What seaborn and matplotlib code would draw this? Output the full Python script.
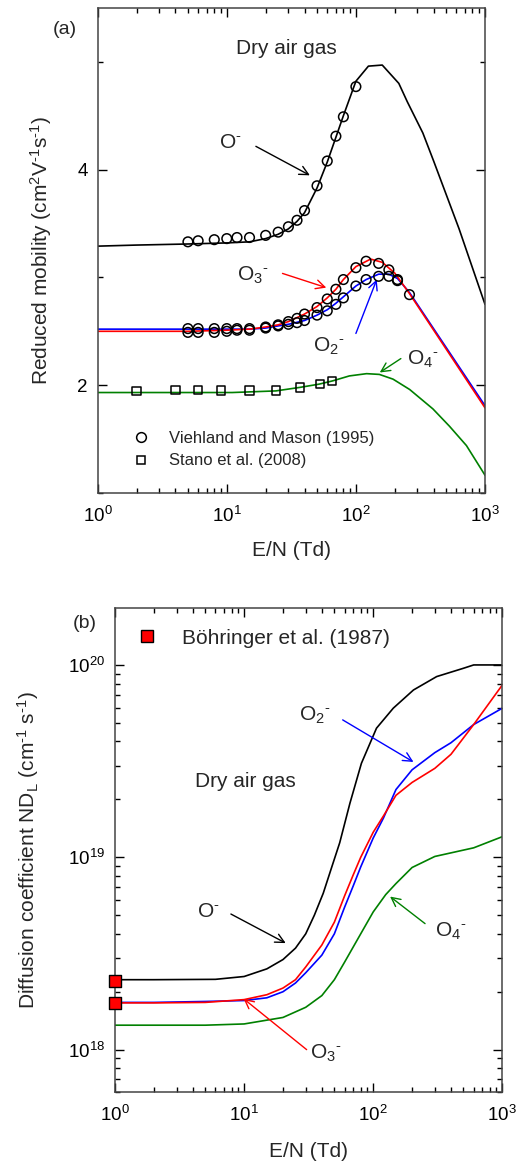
import numpy as np
import pandas as pd
import matplotlib
matplotlib.use("Agg")
import matplotlib.pyplot as plt
from matplotlib.lines import Line2D
from matplotlib.ticker import MultipleLocator, LogLocator, NullFormatter
import seaborn as sns

# ---- panel (a): reduced mobility ----
o_line_x = [1, 2, 5, 10, 15, 20, 25, 30, 35, 40, 50, 60, 70, 80, 100, 125, 160, 215, 250, 330, 400, 630, 1000]
o_line_y = [3.29, 3.30, 3.31, 3.32, 3.33, 3.36, 3.40, 3.45, 3.52, 3.60, 3.83, 4.07, 4.30, 4.50, 4.82, 4.96, 4.97,
            4.80, 4.63, 4.34, 4.08, 3.45, 2.75]

o3_line_x = [1, 5, 10, 15, 20, 25, 30, 40, 50, 60, 70, 80, 100, 130, 160, 200, 260, 1000]
o3_line_y = [2.50, 2.50, 2.51, 2.52, 2.54, 2.56, 2.59, 2.66, 2.73, 2.81, 2.89, 2.98, 3.10, 3.17, 3.14, 3.04, 2.85, 1.79]

o2_line_x = [1, 5, 10, 15, 20, 25, 30, 40, 50, 60, 70, 80, 100, 120, 150, 180, 210, 260, 1000]
o2_line_y = [2.52, 2.52, 2.52, 2.52, 2.53, 2.55, 2.565, 2.60, 2.65, 2.70, 2.76, 2.82, 2.92, 2.98, 3.03, 3.03, 2.99, 2.86, 1.81]

o4_line_x = [1, 5, 11, 24, 37, 52, 66, 89, 121, 152, 194, 261, 395, 530, 718, 1000]
o4_line_y = [1.932, 1.932, 1.932, 1.947, 1.98, 2.01, 2.04, 2.086, 2.107, 2.10, 2.056, 1.96, 1.78, 1.62, 1.44, 1.165]

# Viehland and Mason (1995) circles
vm_o_x = [5, 6, 8, 10, 12, 15, 20, 25, 30, 35, 40, 50, 60, 70, 80, 100]
vm_o_y = [3.33, 3.34, 3.35, 3.36, 3.37, 3.37, 3.39, 3.42, 3.47, 3.53, 3.62, 3.85, 4.08, 4.31, 4.49, 4.77]
vm_o3_x = [5, 6, 8, 10, 12, 15, 20, 25, 30, 35, 40, 50, 60, 70, 80, 100, 120, 150, 180, 210, 260]
vm_o3_y = [2.525, 2.525, 2.525, 2.525, 2.525, 2.525, 2.54, 2.56, 2.59, 2.62, 2.66, 2.72, 2.80, 2.89, 2.98, 3.09, 3.15, 3.13, 3.07, 2.98, 2.84]
vm_o2_x = [5, 6, 8, 10, 12, 15, 20, 25, 30, 35, 40, 50, 60, 70, 80, 100, 120, 150, 180, 210]
vm_o2_y = [2.49, 2.49, 2.49, 2.50, 2.51, 2.51, 2.53, 2.55, 2.565, 2.58, 2.60, 2.65, 2.69, 2.75, 2.81, 2.92, 2.98, 3.01, 3.01, 2.97]

# Stano et al. (2008) squares
st_x = [2, 4, 6, 9, 15, 24, 37, 53, 65]
st_y = [1.944, 1.956, 1.956, 1.95, 1.95, 1.952, 1.98, 2.012, 2.04]

# ---- panel (b): diffusion coefficient ----
d_o_x = [1, 2, 6, 10, 15, 20, 25, 30, 35, 41, 48, 55, 66, 81, 106, 143, 205, 310, 500, 600, 1000]
d_o_y = [2.31e18, 2.31e18, 2.32e18, 2.40e18, 2.63e18, 2.94e18, 3.37e18, 4.0e18, 5.0e18, 6.5e18, 9.0e18,
         1.19e19, 1.91e19, 3.08e19, 4.69e19, 5.96e19, 7.41e19, 8.7e19, 9.61e19, 1.0e20, 1.0e20]

d_x = [1, 2, 5, 10, 15, 20, 25, 30, 40, 50, 60, 70, 80, 100, 120, 150, 200, 300, 400, 600, 1000]
d_o3_y = [1.75e18, 1.75e18, 1.76e18, 1.82e18, 1.93e18, 2.09e18, 2.31e18, 2.69e18, 3.50e18, 4.60e18, 6.30e18,
          8.10e18, 1.00e19, 1.35e19, 1.64e19, 2.10e19, 2.45e19, 2.90e19, 3.43e19, 4.90e19, 7.87e19]
d_o2_y = [1.76e18, 1.76e18, 1.78e18, 1.80e18, 1.86e18, 2.00e18, 2.22e18, 2.51e18, 3.10e18, 4.00e18, 5.50e18,
          7.10e18, 8.91e18, 1.26e19, 1.60e19, 2.25e19, 2.85e19, 3.50e19, 3.94e19, 4.90e19, 5.96e19]

d_o4_x = [1, 5, 10, 20, 30, 40, 50, 60, 80, 100, 125, 150, 200, 300, 600, 1000]
d_o4_y = [1.34e18, 1.34e18, 1.36e18, 1.47e18, 1.66e18, 1.91e18, 2.31e18, 2.85e18, 4.0e18, 5.2e18,
          6.4e18, 7.3e18, 8.85e18, 1.01e19, 1.12e19, 1.28e19]

# Bohringer et al. (1987)
bo_x = [1, 1]
bo_y = [2.27e18, 1.75e18]

sns.set_style("ticks")
plt.rcParams['font.family'] = ['Liberation Sans', 'DejaVu Sans']
plt.rcParams['mathtext.fontset'] = 'custom'
plt.rcParams['mathtext.rm'] = 'Liberation Sans'
plt.rcParams['mathtext.it'] = 'Liberation Sans:italic'
plt.rcParams['mathtext.default'] = 'regular'

GREEN = '#008000'
SPINE = '#444444'
NEG = r'\text{-}'

fig = plt.figure(figsize=(5.3, 11.66), dpi=100)
ax1 = fig.add_axes([0.1843, 0.5772, 0.7308, 0.416])
ax2 = fig.add_axes([0.217, 0.0632, 0.7308, 0.4151])


def style_axes(ax):
    ax.tick_params(which='both', direction='in', top=True, right=True, colors='black', width=1, labelsize=13.5)
    ax.tick_params(which='major', length=6.5)
    ax.tick_params(which='minor', length=3.5)
    ax.tick_params(axis='x', pad=9)
    ax.tick_params(axis='y', pad=7)
    for s in ax.spines.values():
        s.set_color(SPINE)
        s.set_linewidth(1.1)
        s.set_visible(True)


def ion(sub=''):
    if sub:
        return 'O$_%s$$^{%s}$' % (sub, NEG)
    return 'O$^{%s}$' % NEG


# ---------------- (a) ----------------
lw = 1.2
sns.lineplot(x=o_line_x, y=o_line_y, ax=ax1, color='black', lw=lw, sort=False)
sns.lineplot(x=o2_line_x, y=o2_line_y, ax=ax1, color='blue', lw=lw, sort=False)
sns.lineplot(x=o3_line_x, y=o3_line_y, ax=ax1, color='red', lw=lw, sort=False)
sns.lineplot(x=o4_line_x, y=o4_line_y, ax=ax1, color=GREEN, lw=lw, sort=False)

circ = dict(marker='o', s=48, facecolors='none', edgecolors='black', linewidths=1.1)
for cx, cy in [(vm_o_x, vm_o_y), (vm_o3_x, vm_o3_y), (vm_o2_x, vm_o2_y)]:
    ax1.scatter(cx, cy, zorder=5, **circ)
sns.scatterplot(x=st_x, y=st_y, ax=ax1, marker='s', s=36, facecolor='none', edgecolor='black',
                linewidth=1.1, zorder=5)

ax1.set_xscale('log')
ax1.set_xlim(1, 1000)
ax1.set_ylim(1, 5.5)
ax1.yaxis.set_major_locator(MultipleLocator(2))
ax1.yaxis.set_minor_locator(MultipleLocator(1))
ax1.xaxis.set_minor_locator(LogLocator(base=10, subs=np.arange(2, 10)))
ax1.xaxis.set_minor_formatter(NullFormatter())
style_axes(ax1)
ax1.set_xlabel('E/N (Td)', fontsize=15)
ax1.set_ylabel('Reduced mobility (cm$^2$V$^{%s1}$s$^{%s1}$)' % (NEG, NEG), fontsize=15)
ax1.xaxis.set_label_coords(0.5, -0.100)
ax1.yaxis.set_label_coords(-0.112, 0.5)

ax1.text(29, 5.12, 'Dry air gas', fontsize=15, ha='center', va='center')
ax1.text(10.6, 4.25, ion(), fontsize=15, ha='center', va='center')
ax1.text(16, 3.02, ion('3'), fontsize=15, ha='center', va='center')
ax1.text(62, 2.36, ion('2'), fontsize=15, ha='center', va='center')
ax1.text(330, 2.24, ion('4'), fontsize=15, ha='center', va='center')
arr = dict(arrowstyle='->', lw=1.0, mutation_scale=16, shrinkA=0, shrinkB=0)
ax1.annotate('', xy=(44, 3.947), xytext=(16.8, 4.216), arrowprops=dict(color='black', **arr))
ax1.annotate('', xy=(59, 2.905), xytext=(27, 3.037), arrowprops=dict(color='red', **arr))
ax1.annotate('', xy=(145, 2.98), xytext=(100, 2.48), arrowprops=dict(color='blue', **arr))
ax1.annotate('', xy=(153, 2.118), xytext=(223, 2.247), arrowprops=dict(color=GREEN, **arr))

h1 = [Line2D([], [], ls='none', marker='o', ms=7, mfc='none', mec='black', mew=1.1),
      Line2D([], [], ls='none', marker='s', ms=6, mfc='none', mec='black', mew=1.1)]
ax1.legend(h1, ['Viehland and Mason (1995)', 'Stano et al. (2008)'], loc='upper left',
           bbox_to_anchor=(0.09, 0.128), frameon=False, fontsize=12, handlelength=1.0,
           handletextpad=1.2, labelspacing=0.45, borderpad=0, borderaxespad=0)
fig.text(0.1226, 0.9743, '(a)', fontsize=14, ha='center', va='center')

# ---------------- (b) ----------------
sns.lineplot(x=d_o_x, y=d_o_y, ax=ax2, color='black', lw=lw, sort=False)
sns.lineplot(x=d_x, y=d_o2_y, ax=ax2, color='blue', lw=lw, sort=False)
sns.lineplot(x=d_x, y=d_o3_y, ax=ax2, color='red', lw=lw, sort=False)
sns.lineplot(x=d_o4_x, y=d_o4_y, ax=ax2, color=GREEN, lw=lw, sort=False)
ax2.scatter(bo_x, bo_y, marker='s', s=64, facecolors='red', edgecolors='black', linewidths=1.0,
            zorder=6, clip_on=False)

ax2.set_xscale('log')
ax2.set_yscale('log')
ax2.set_xlim(1, 1000)
ax2.set_ylim(6.0e17, 1.97e20)
ax2.xaxis.set_minor_locator(LogLocator(base=10, subs=np.arange(2, 10)))
ax2.xaxis.set_minor_formatter(NullFormatter())
ax2.yaxis.set_minor_locator(LogLocator(base=10, subs=np.arange(2, 10)))
ax2.yaxis.set_minor_formatter(NullFormatter())
style_axes(ax2)
ax2.set_xlabel('E/N (Td)', fontsize=15)
ax2.set_ylabel('Diffusion coefficient ND$_L$ (cm$^{%s1}$ s$^{%s1}$)' % (NEG, NEG), fontsize=15)
ax2.xaxis.set_label_coords(0.5, -0.102)
ax2.yaxis.set_label_coords(-0.191, 0.5)

ax2.text(10.2, 2.48e19, 'Dry air gas', fontsize=15, ha='center', va='center')
ax2.text(35.4, 5.5e19, ion('2'), fontsize=15, ha='center', va='center')
ax2.text(5.3, 5.23e18, ion(), fontsize=15, ha='center', va='center')
ax2.text(43, 9.6e17, ion('3'), fontsize=15, ha='center', va='center')
ax2.text(400, 4.1e18, ion('4'), fontsize=15, ha='center', va='center')
ax2.annotate('', xy=(205, 3.13e19), xytext=(58, 5.18e19), arrowprops=dict(color='blue', **arr))
ax2.annotate('', xy=(21, 3.58e18), xytext=(7.9, 5.07e18), arrowprops=dict(color='black', **arr))
ax2.annotate('', xy=(9.9, 1.84e18), xytext=(30.5, 1.0e18), arrowprops=dict(color='red', **arr))
ax2.annotate('', xy=(135, 6.25e18), xytext=(252, 4.52e18), arrowprops=dict(color=GREEN, **arr))

h2 = [Line2D([], [], ls='none', marker='s', ms=8, mfc='red', mec='black', mew=1.0)]
ax2.legend(h2, ['B\u00f6hringer et al. (1987)'], loc='upper left', bbox_to_anchor=(0.055, 0.958),
           frameon=False, fontsize=15, handlelength=1.0, handletextpad=1.2, borderpad=0, borderaxespad=0)
fig.text(0.160, 0.4654, '(b)', fontsize=14, ha='center', va='center')

fig.savefig('out.png', dpi=100)
